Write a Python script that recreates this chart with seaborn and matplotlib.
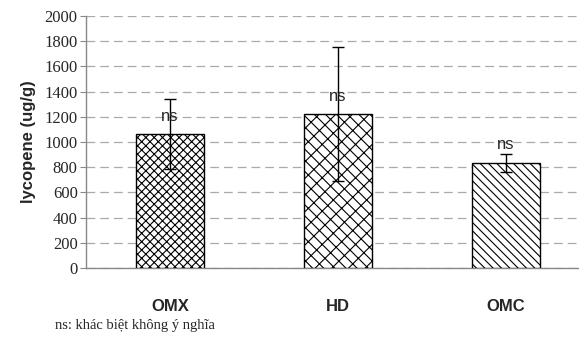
import numpy as np
import pandas as pd
import matplotlib
matplotlib.use("Agg")
import matplotlib.pyplot as plt
import seaborn as sns

groups = ["OMX", "HD", "OMC"]
lycopene = [1063, 1222, 835]
sd = [275, 535, 72]
labels = ["ns", "ns", "ns"]
label_y = [1200, 1365, 978]
hatches = ["xxxx", "//\\\\\\", "\\\\\\\\"]
yticks = list(range(0, 2001, 200))

df = pd.DataFrame({"group": groups, "lycopene": lycopene})

sns.set_style("white")
plt.rcParams["hatch.linewidth"] = 0.8

fig = plt.figure(figsize=(5.79, 3.40), dpi=100)
ax = fig.add_axes([86 / 579, 1 - 268 / 340, 504 / 579, 252 / 340])

sns.barplot(data=df, x="group", y="lycopene", color="white", edgecolor="black",
            linewidth=1.0, width=0.4, errorbar=None, ax=ax, zorder=3)
for patch, h in zip(ax.patches, hatches):
    patch.set_hatch(h)
    patch.set_zorder(3)

ax.errorbar(np.arange(len(groups)), lycopene, yerr=sd, fmt="none",
            ecolor="black", elinewidth=1.0, capsize=4, capthick=1.0, zorder=4)

for i, (lab, ytxt) in enumerate(zip(labels, label_y)):
    ax.text(i, ytxt, lab, ha="center", va="center", fontsize=12,
            family="Liberation Sans", zorder=5)

ax.set_xlim(-0.5, 2.5)
ax.set_ylim(0, 2000)
ax.set_yticks(yticks)
ax.set_yticklabels([str(t) for t in yticks], family="Liberation Serif", fontsize=12)
ax.yaxis.grid(True, linestyle=(0, (7, 4)), color="#aaaaaa", linewidth=0.9, zorder=0)
ax.set_axisbelow(True)

ax.set_xticks([0, 1, 2])
ax.set_xticklabels(groups, family="Liberation Sans", fontsize=12, fontweight="bold")
ax.tick_params(axis="x", length=0, pad=22)
ax.set_xticks([0.5, 1.5], minor=True)
ax.tick_params(axis="x", which="minor", length=5, color="#888888", direction="out")
ax.tick_params(axis="y", length=4, color="#888888", direction="out", left=True, pad=2)

ax.set_xlabel("")
ax.set_ylabel("lycopene (ug/g)", family="Liberation Sans", fontsize=12,
              fontweight="bold", labelpad=6)

for side in ["top", "right"]:
    ax.spines[side].set_visible(False)
for side in ["left", "bottom"]:
    ax.spines[side].set_color("#888888")
    ax.spines[side].set_linewidth(1.0)

fig.text(55 / 579, 1 - 325 / 340, "ns: khác biệt không ý nghĩa",
         family="Liberation Serif", fontsize=10.5, va="center", ha="left")

fig.savefig("out.png", dpi=100)
